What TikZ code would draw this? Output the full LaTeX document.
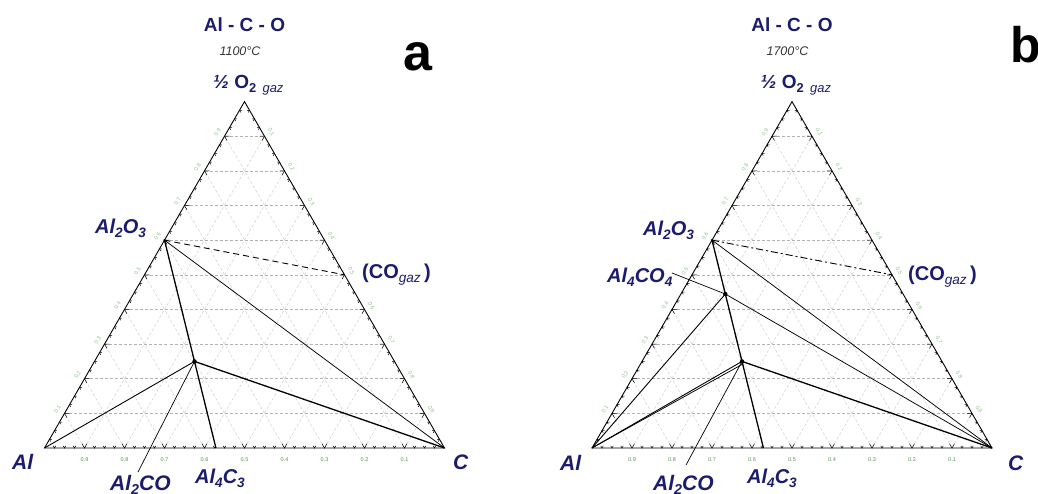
\documentclass[tikz,border=0pt]{standalone}
\usepackage{fontspec}
\setmainfont{Liberation Sans}
\usepackage{graphicx}
\usetikzlibrary{calc}
\definecolor{navy}{RGB}{28,28,110}
\definecolor{tickgreen}{RGB}{80,150,80}
\definecolor{edgegreen}{RGB}{140,195,140}
\newcommand{\fs}[1]{\fontsize{#1}{#1}\selectfont}
\newcommand{\sbs}[1]{\raisebox{-0.22em}{\scalebox{0.68}{#1}}}
\newcommand{\ternbase}[2]{%
  \coordinate (Al#1) at (44.5,448);
  \coordinate (C#1) at (444.5,448);
  \coordinate (O#1) at (244.5,101.6);
  \foreach \i in {1,...,9}{%
    \pgfmathsetmacro\t{\i/10}%
    \draw[hgrid] ({44.5+200*\t},{448-346.4*\t}) -- ({444.5-200*\t},{448-346.4*\t});
    \draw[dgrid] ({44.5+400*\t},448) -- ({244.5+200*\t},{101.6+346.4*\t});
    \draw[dgrid] ({444.5-400*\t},448) -- ({244.5-200*\t},{101.6+346.4*\t});
    \node[axlab,text=tickgreen] (bx#1\i) at ({44.5+400*(1-\t)},460) {0.\i};
    \node[axlab,rotate=60] (lx#1\i) at ({44.5+200*\t-7},{448-346.4*\t-4}) {0.\i};
    \node[axlab,rotate=-60] (rx#1\i) at ({244.5+200*\t+7},{101.6+346.4*\t-4}) {0.\i};
  }
  \foreach \k in {1,...,39}{%
    \pgfmathsetmacro\t{\k/40}%
    \pgfmathsetmacro\s{ifthenelse(mod(\k,4)==0,5,2.5)}%
    \draw[tickmark] ({44.5+400*\t+0.5*\s},{448-0.866*\s}) -- ({44.5+400*\t},448) -- ({44.5+400*\t-0.5*\s},{448-0.866*\s});
    \draw[tickmark] ({44.5+200*\t+\s},{448-346.4*\t}) -- ({44.5+200*\t},{448-346.4*\t}) -- ({44.5+200*\t+0.5*\s},{448-346.4*\t+0.866*\s});
    \draw[tickmark] ({444.5-200*\t-\s},{448-346.4*\t}) -- ({444.5-200*\t},{448-346.4*\t}) -- ({444.5-200*\t-0.5*\s},{448-346.4*\t+0.866*\s});
  }
  \draw[triedge] (Al#1) -- (C#1) -- (O#1) -- cycle;
  \node[ttl] (title#1) at (244.5,31.5) {Al - C - O};
  \node[templab] (temp#1) at (240,55) {#2};
  \node[toplab] (top#1) at (213,88) {\bfseries\itshape ½ \upshape O\sbs{2}\,\,\mdseries\sbs{\itshape gaz}};
  \coordinate (AO#1) at (barycentric cs:Al#1=0.4,O#1=0.6);
  \coordinate (ACO#1) at (barycentric cs:Al#1=0.5,C#1=0.25,O#1=0.25);
  \coordinate (AC#1) at (barycentric cs:Al#1=4,C#1=3);
  \coordinate (CO#1) at (barycentric cs:C#1=0.5,O#1=0.5);
}
\begin{document}
\begin{tikzpicture}[x=1pt,y=-1pt,
  hgrid/.style={gray!60,line width=0.5,dash pattern=on 3pt off 2pt},
  dgrid/.style={gray!40,line width=0.45,dash pattern=on 3pt off 2pt},
  tickmark/.style={black,line width=0.5},
  triedge/.style={black,line width=0.9},
  tiethick/.style={black,line width=1.3},
  tiemed/.style={black,line width=0.9},
  tiethin/.style={black,line width=0.75},
  tiedash/.style={black,line width=0.9,dash pattern=on 6pt off 4pt},
  tiedashdot/.style={black,line width=0.9,dash pattern=on 7pt off 3pt on 2pt off 3pt},
  leader/.style={black,line width=0.7},
  axlab/.style={font=\fs{5.5},text=edgegreen,inner sep=0pt},
  ttl/.style={font=\fs{19}\bfseries,text=navy,inner sep=0pt,anchor=base},
  templab/.style={font=\fs{12.5}\itshape,text=black!80,inner sep=0pt,anchor=base},
  toplab/.style={font=\fs{19},text=navy,inner sep=0pt,anchor=base west},
  cmp/.style={font=\fs{20}\bfseries\itshape,text=navy,inner sep=0pt,anchor=base west},
  gaslab/.style={font=\fs{20}\bfseries,text=navy,inner sep=0pt,anchor=base west},
  panel/.style={font=\fs{50}\bfseries,text=black,inner sep=0pt,anchor=base west}]
\useasboundingbox[fill=white] (0,0) rectangle (1038,493);
% ---------------- panel a ----------------
\begin{scope}
  \ternbase{a}{1100°C}
  \draw[tiethick] (AOa) -- (ACa);
  \draw[tiethin] (AOa) -- (Ca);
  \draw[tiedash] (AOa) -- (COa);
  \draw[tiemed] (Ala) -- (ACOa);
  \draw[tiethick] (ACOa) -- (Ca);
  \coordinate (ldACOa) at (138,472);
  \draw[leader] (ldACOa) -- (ACOa);
  \fill (ACOa) circle (2.2);
  \fill (AOa) circle (1.3);
  \node[cmp] (lAOa) at (95,233) {Al\sbs{2}O\sbs{3}};
  \node[gaslab] (lCOa) at (362,278) {(CO\sbs{\mdseries\itshape gaz}\,)};
  \node[cmp,font=\fs{21}\bfseries\itshape] (lAla) at (12,469) {Al};
  \node[cmp,font=\fs{21}\bfseries\itshape] (lCa) at (453,469) {C};
  \node[cmp,font=\fs{21}\bfseries\itshape] (lACOa) at (110,490) {Al\sbs{2}CO};
  \node[cmp] (lACa) at (195,483) {Al\sbs{4}C\sbs{3}};
\end{scope}
\node[panel,font=\fs{52}\bfseries] (pa) at (403,70.5) {a};
% ---------------- panel b ----------------
\begin{scope}[shift={(547.5,0)}]
  \ternbase{b}{1700°C}
  \coordinate (A4b) at (barycentric cs:Alb=4,Cb=1,Ob=4);
  \coordinate (ACObis) at ($(ACOb)+(1,2.5)$);
  \draw[tiethick] (AOb) -- (ACb);
  \draw[tiethin] (AOb) -- (Cb);
  \draw[tiedashdot] (AOb) -- (COb);
  \draw[tiethin] (A4b) -- (Cb);
  \draw[tiemed] (Alb) -- (A4b);
  \draw[tiemed] (Alb) -- (ACOb);
  \draw[tiethin] (Alb) -- (ACObis);
  \draw[tiethick] (ACOb) -- (Cb);
  \coordinate (ldA4b) at (124.5,273);
  \coordinate (ldACOb) at (138.5,465);
  \draw[leader] (ldA4b) -- (A4b);
  \draw[leader] (ldACOb) -- (ACOb);
  \fill (ACOb) circle (2.2);
  \fill (A4b) circle (2.2);
  \fill (AOb) circle (1.3);
  \node[cmp] (lAOb) at (95.5,235) {Al\sbs{2}O\sbs{3}};
  \node[cmp] (lA4b) at (59.5,282) {Al\sbs{4}CO\sbs{4}};
  \node[gaslab] (lCOb) at (360.5,280) {(CO\sbs{\mdseries\itshape gaz}\,)};
  \node[cmp,font=\fs{21}\bfseries\itshape] (lAlb) at (12.5,470) {Al};
  \node[cmp,font=\fs{21}\bfseries\itshape] (lCb) at (460.5,470) {C};
  \node[cmp,font=\fs{21}\bfseries\itshape] (lACOb) at (105.5,490) {Al\sbs{2}CO};
  \node[cmp] (lACb) at (199.5,483) {Al\sbs{4}C\sbs{3}};
\end{scope}
\node[panel] (pb) at (1010,62) {b};
\end{tikzpicture}
\end{document}
